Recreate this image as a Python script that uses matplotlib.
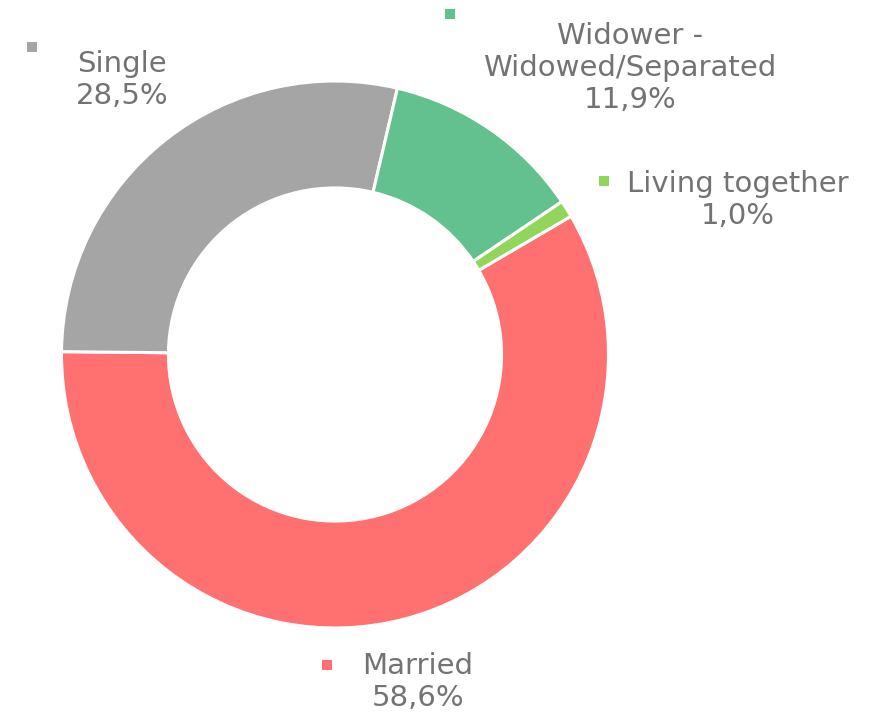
import matplotlib
matplotlib.use("Agg")
import matplotlib.pyplot as plt
from matplotlib.patches import Rectangle

categories = ["Married", "Single", "Widower -\nWidowed/Separated", "Living together"]
values = [58.6, 28.5, 11.9, 1.0]
value_labels = ["58,6%", "28,5%", "11,9%", "1,0%"]
colors = ["#FF7070", "#A5A5A5", "#62C18F", "#91D65A"]

W, H = 878, 720
fig = plt.figure(figsize=(W / 100, H / 100), dpi=100)
plt.rcParams['font.family'] = ['DejaVu Sans']

cx, cy, R = 335, 354.5, 273.5
ax = fig.add_axes([(cx - R) / W, (H - cy - R) / H, 2 * R / W, 2 * R / H])
start = 179.4 + values[0] * 3.6
ax.pie(values, colors=colors, startangle=start, counterclock=False,
       radius=1.0, wedgeprops=dict(width=0.391, edgecolor="white", linewidth=2.2))
ax.set_xlim(-1, 1)
ax.set_ylim(-1, 1)
ax.set_aspect("equal")
ax.axis("off")

txt_color = "#737373"
fs = 21

def fx(x):
    return x / W

def fy(y):
    return 1 - y / H

def square(x, y, col, s=10):
    fig.add_artist(Rectangle((fx(x - s / 2), fy(y + s / 2)), s / W, s / H,
                             transform=fig.transFigure, color=col, lw=0))

# label positions (pixel centers) and legend-key squares
layout = [
    (418, 682, (327, 665)),
    (122, 80, (32, 47)),
    (630, 68, (450, 14)),
    (738, 200, (604, 181)),
]
for cat, vl, (x, y, sq), col in zip(categories, value_labels, layout, colors):
    fig.text(fx(x), fy(y), f"{cat}\n{vl}", ha="center", va="center", fontsize=fs,
             color=txt_color, linespacing=1.2, multialignment="center")
    square(sq[0], sq[1], col)

fig.savefig("out.png", dpi=100)
